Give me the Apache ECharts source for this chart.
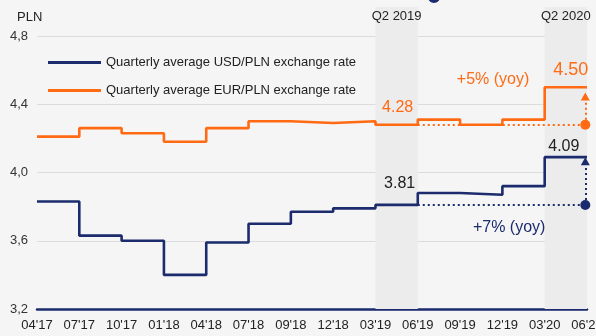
<!DOCTYPE html>
<html>
<head>
<meta charset="utf-8">
<script src="https://cdn.jsdelivr.net/npm/echarts@6/dist/echarts.min.js"></script>
<style>
  html, body { margin: 0; padding: 0; background: #f5f5f5; }
  #chart { width: 596px; height: 336px; }
</style>
</head>
<body>
<div id="chart"></div>
<script>
// Quarter boundaries shown along the time axis
const quarters = ["04'17", "07'17", "10'17", "01'18", "04'18", "07'18", "09'18",
                  "12'18", "03'19", "06'19", "09'19", "12'19", "03'20", "06'20"];
// Quarterly average exchange rates (one value per quarter)
const usdPln = [3.83, 3.63, 3.60, 3.40, 3.59, 3.70, 3.77, 3.79, 3.81, 3.88, 3.87, 3.92, 4.09];
const eurPln = [4.21, 4.26, 4.23, 4.18, 4.26, 4.30, 4.29, 4.30, 4.28, 4.31, 4.28, 4.31, 4.50];
// Y-axis ticks
const yTicks = [3.2, 3.6, 4.0, 4.4, 4.8];
// Highlighted quarters: [label, start index, end index]
const highlights = [["Q2 2019", 8, 9], ["Q2 2020", 12, 13]];
// Year-on-year change labels
const usdYoy = "+7% (yoy)";
const eurYoy = "+5% (yoy)";

const NAVY = '#1b2b6d';
const ORANGE = '#ff6a13';
const FONT = "'Liberation Sans', Arial, sans-serif";

// Each quarter value spans [i, i+1]; repeat last value to close the final step
function stepData(vals) {
  const d = vals.map((v, i) => [i, v]);
  d.push([vals.length, vals[vals.length - 1]]);
  return d;
}

const last = usdPln.length - 1;       // Q2 2020 index
const base = 8;                       // Q2 2019 index
const markerX = quarters.length - 1 - 0.04;

function textPoint(x, y, text, color, size, offset) {
  return {
    coord: [x, y], symbol: 'circle', symbolSize: 0,
    label: { show: true, position: 'inside', formatter: text, color: color,
             fontSize: size, fontFamily: FONT, offset: offset }
  };
}

function comparisonLines(vals, color, arrowShift) {
  return {
    silent: true,
    symbol: ['none', 'none'],
    label: { show: false },
    lineStyle: { type: [2, 3], width: 2, color: color },
    data: [
      [{ coord: [base + 1, vals[base]] }, { coord: [markerX, vals[base]] }],
      [{ coord: [markerX, vals[base]] },
       { coord: [markerX, vals[last] - arrowShift], symbol: 'triangle', symbolSize: [9, 8] }]
    ]
  };
}

const chart = echarts.init(document.getElementById('chart'), null, { renderer: 'canvas' });

chart.setOption({
  animation: false,
  backgroundColor: '#f5f5f5',
  textStyle: { fontFamily: FONT },
  legend: {
    orient: 'vertical', left: 43, top: 51,
    icon: 'rect', itemWidth: 53, itemHeight: 3, itemGap: 15,
    textStyle: { fontSize: 13, color: '#222', fontFamily: FONT },
    data: ['Quarterly average USD/PLN exchange rate', 'Quarterly average EUR/PLN exchange rate']
  },
  grid: [
    { left: 37, right: 9, top: 36, bottom: 27, outerBoundsMode: 'none', containLabel: false },
    { left: 37, right: 9, top: 7, bottom: 27, outerBoundsMode: 'none', containLabel: false }
  ],
  xAxis: [
    {
      type: 'value', gridIndex: 0, min: 0, max: quarters.length - 1, interval: 1,
      axisLine: { show: true, onZero: false, lineStyle: { color: NAVY, width: 2.5 } },
      axisTick: { show: false },
      splitLine: { show: false },
      axisLabel: {
        color: '#222', fontSize: 13, fontFamily: FONT, margin: 10, hideOverlap: false,
        formatter: v => quarters[v] || ''
      }
    },
    { type: 'value', gridIndex: 1, min: 0, max: quarters.length - 1, show: false }
  ],
  yAxis: [
    {
      type: 'value', gridIndex: 0, min: yTicks[0], max: yTicks[yTicks.length - 1], interval: 0.4,
      name: 'PLN', nameLocation: 'end', nameGap: 12,
      nameTextStyle: { color: '#222', fontSize: 13, fontFamily: FONT, align: 'left', padding: [0, 0, 0, -20] },
      axisLine: { show: false }, axisTick: { show: false },
      splitLine: { lineStyle: { color: '#dcdcdc', width: 1 } },
      axisLabel: {
        color: '#333', fontSize: 13, fontFamily: FONT, margin: 9,
        formatter: v => v.toFixed(1).replace('.', ',')
      }
    },
    { type: 'value', gridIndex: 1, min: 0, max: 1, show: false }
  ],
  series: [
    {
      // shaded quarter bands, extending above the plot to hold their captions
      type: 'line', xAxisIndex: 1, yAxisIndex: 1, data: [], z: -1, silent: true,
      markArea: {
        silent: true,
        itemStyle: { color: '#ececec' },
        label: { show: true, position: 'insideTop', distance: 3, color: '#222',
                 fontSize: 13, fontFamily: FONT },
        data: highlights.map(h => [{ name: h[0], xAxis: h[1], yAxis: 0 }, { xAxis: h[2], yAxis: 1 }])
      }
    },
    {
      name: 'Quarterly average USD/PLN exchange rate',
      type: 'line', step: 'end', showSymbol: false, symbol: 'none',
      data: stepData(usdPln),
      color: NAVY,
      lineStyle: { color: NAVY, width: 2.6 },
      markLine: comparisonLines(usdPln, NAVY, 0.024),
      markPoint: {
        silent: true,
        data: [
          { coord: [markerX, usdPln[base]], symbol: 'circle', symbolSize: 10, itemStyle: { color: NAVY },
            label: { show: false } },
          textPoint(base + 0.5, usdPln[base], usdPln[base].toFixed(2), '#222', 16, [3, -21]),
          textPoint(last + 0.5, usdPln[last], usdPln[last].toFixed(2), '#222', 16, [-2, -11]),
          textPoint(11.16, 3.676, usdYoy, NAVY, 16, [0, 0])
        ]
      }
    },
    {
      name: 'Quarterly average EUR/PLN exchange rate',
      type: 'line', step: 'end', showSymbol: false, symbol: 'none',
      data: stepData(eurPln),
      color: ORANGE,
      lineStyle: { color: ORANGE, width: 2.6 },
      markLine: comparisonLines(eurPln, ORANGE, 0.055),
      markPoint: {
        silent: true,
        data: [
          { coord: [markerX, eurPln[base]], symbol: 'circle', symbolSize: 10, itemStyle: { color: ORANGE },
            label: { show: false } },
          textPoint(base + 0.5, eurPln[base], eurPln[base].toFixed(2), ORANGE, 16, [1, -17]),
          textPoint(last + 0.5, eurPln[last], eurPln[last].toFixed(2), ORANGE, 18, [5, -17]),
          textPoint(10.78, 4.542, eurYoy, ORANGE, 16, [0, 0])
        ]
      }
    }
  ],
  graphic: [
    // edge of the marker that sits just above the visible area
    { type: 'circle', shape: { cx: 434, cy: -3, r: 6 }, style: { fill: NAVY }, silent: true }
  ]
});
</script>
</body>
</html>
